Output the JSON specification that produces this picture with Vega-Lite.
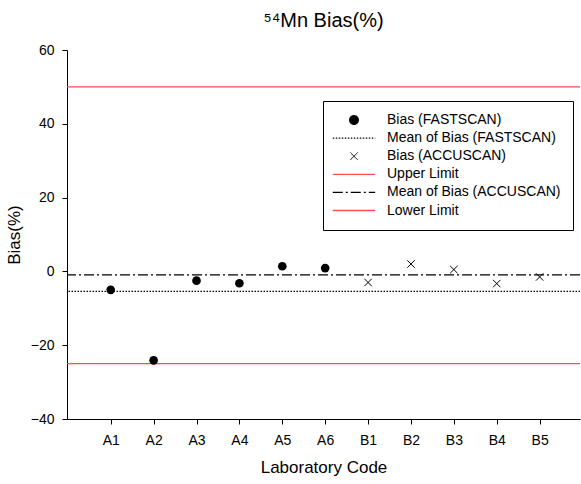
{
  "$schema": "https://vega.github.io/schema/vega-lite/v6.json",
  "width": 513,
  "height": 369,
  "autosize": "none",
  "padding": {"left": 67, "top": 50, "right": 1, "bottom": 65},
  "background": "white",
  "config": {
    "font": "Liberation Sans",
    "view": {"stroke": null},
    "axis": {
      "grid": false,
      "domainColor": "black",
      "tickColor": "black",
      "labelColor": "black",
      "titleColor": "black",
      "labelFontSize": 14,
      "titleFontSize": 17,
      "titleFontWeight": "normal",
      "labelFont": "Liberation Sans",
      "titleFont": "Liberation Sans",
      "tickSize": 5,
      "domainWidth": 1,
      "tickWidth": 1
    }
  },
  "title": {
    "text": "⁵⁴Mn Bias(%)",
    "fontSize": 20,
    "fontWeight": "normal",
    "font": "Liberation Sans",
    "color": "black",
    "offset": 12
  },
  "datasets": {
    "pts": [
      {"lab": "A1", "bias": -5.0, "series": "Bias (FASTSCAN)"},
      {"lab": "A2", "bias": -24.1, "series": "Bias (FASTSCAN)"},
      {"lab": "A3", "bias": -2.5, "series": "Bias (FASTSCAN)"},
      {"lab": "A4", "bias": -3.2, "series": "Bias (FASTSCAN)"},
      {"lab": "A5", "bias": 1.4, "series": "Bias (FASTSCAN)"},
      {"lab": "A6", "bias": 0.9, "series": "Bias (FASTSCAN)"},
      {"lab": "B1", "bias": -3.0, "series": "Bias (ACCUSCAN)"},
      {"lab": "B2", "bias": 2.0, "series": "Bias (ACCUSCAN)"},
      {"lab": "B3", "bias": 0.5, "series": "Bias (ACCUSCAN)"},
      {"lab": "B4", "bias": -3.3, "series": "Bias (ACCUSCAN)"},
      {"lab": "B5", "bias": -1.5, "series": "Bias (ACCUSCAN)"}
    ],
    "lines": [
      {"series": "Mean of Bias (FASTSCAN)", "bias": -5.4},
      {"series": "Upper Limit", "bias": 50},
      {"series": "Mean of Bias (ACCUSCAN)", "bias": -0.95},
      {"series": "Lower Limit", "bias": -25}
    ]
  },
  "layer": [
    {
      "data": {"name": "lines"},
      "mark": {"type": "rule", "strokeWidth": 1.3},
      "encoding": {
        "y": {
          "field": "bias",
          "type": "quantitative",
          "scale": {"domain": [-40, 60], "nice": false},
          "axis": {"values": [-40, -20, 0, 20, 40, 60], "title": "Bias(%)", "labelPadding": 8, "titlePadding": 7}
        },
        "color": {
          "field": "series",
          "type": "nominal",
          "scale": {
            "domain": ["Bias (FASTSCAN)", "Mean of Bias (FASTSCAN)", "Bias (ACCUSCAN)", "Upper Limit", "Mean of Bias (ACCUSCAN)", "Lower Limit"],
            "range": ["black", "black", "black", "#ff4d4d", "black", "#ff4d4d"]
          },
          "legend": {
            "title": null,
            "orient": "none",
            "legendX": 256,
            "legendY": 51,
            "strokeColor": "black",
            "fillColor": "white",
            "padding": 12,
            "labelFontSize": 14,
            "labelFont": "Liberation Sans",
            "labelColor": "black",
            "labelLimit": 300,
            "symbolSize": 200,
            "symbolStrokeWidth": 1.3,
            "symbolOffset": 12,
            "rowPadding": 4.1,
            "labelOffset": 26,
            "encode": {
              "symbols": {
                "update": {
                  "shape": {"signal": "datum.value === 'Bias (FASTSCAN)' ? 'circle' : datum.value === 'Bias (ACCUSCAN)' ? 'M-1,-1L1,1M-1,1L1,-1' : 'M-3,0L3,0'"},
                  "size": {"signal": "datum.value === 'Bias (FASTSCAN)' ? 75 : datum.value === 'Bias (ACCUSCAN)' ? 55 : 200"},
                  "fill": {"signal": "datum.value === 'Bias (FASTSCAN)' ? 'black' : 'transparent'"},
                  "stroke": {"scale": "color", "field": "value"},
                  "strokeWidth": {"signal": "datum.value === 'Bias (ACCUSCAN)' ? 1 : 1.3"},
                  "strokeDash": {"signal": "datum.value === 'Mean of Bias (FASTSCAN)' ? [1.5, 1.5] : datum.value === 'Mean of Bias (ACCUSCAN)' ? [10, 3, 2, 3] : [1, 0]"},
                  "opacity": {"value": 1}
                }
              }
            }
          }
        },
        "strokeDash": {
          "field": "series",
          "type": "nominal",
          "scale": {
            "domain": ["Mean of Bias (FASTSCAN)", "Upper Limit", "Mean of Bias (ACCUSCAN)", "Lower Limit"],
            "range": [[1.5, 1.5], [1, 0], [10, 3, 2, 3], [1, 0]]
          },
          "legend": null
        }
      }
    },
    {
      "data": {"name": "pts"},
      "transform": [{"filter": "datum.series === 'Bias (FASTSCAN)'"}],
      "mark": {"type": "point", "shape": "circle", "filled": true, "size": 75, "opacity": 1},
      "encoding": {
        "x": {
          "field": "lab",
          "type": "nominal",
          "scale": {"type": "point", "domain": ["A1", "A2", "A3", "A4", "A5", "A6", "B1", "B2", "B3", "B4", "B5"], "padding": 0.98, "align": 0.52},
          "axis": {"labelAngle": 0, "title": "Laboratory Code", "labelPadding": 9, "titlePadding": 12}
        },
        "y": {"field": "bias", "type": "quantitative"},
        "color": {"field": "series", "type": "nominal"}
      }
    },
    {
      "data": {"name": "pts"},
      "transform": [{"filter": "datum.series === 'Bias (ACCUSCAN)'"}],
      "mark": {"type": "point", "shape": "M-1,-1L1,1M-1,1L1,-1", "filled": false, "size": 55, "strokeWidth": 1, "opacity": 1},
      "encoding": {
        "x": {"field": "lab", "type": "nominal"},
        "y": {"field": "bias", "type": "quantitative"},
        "color": {"field": "series", "type": "nominal"}
      }
    }
  ]
}
